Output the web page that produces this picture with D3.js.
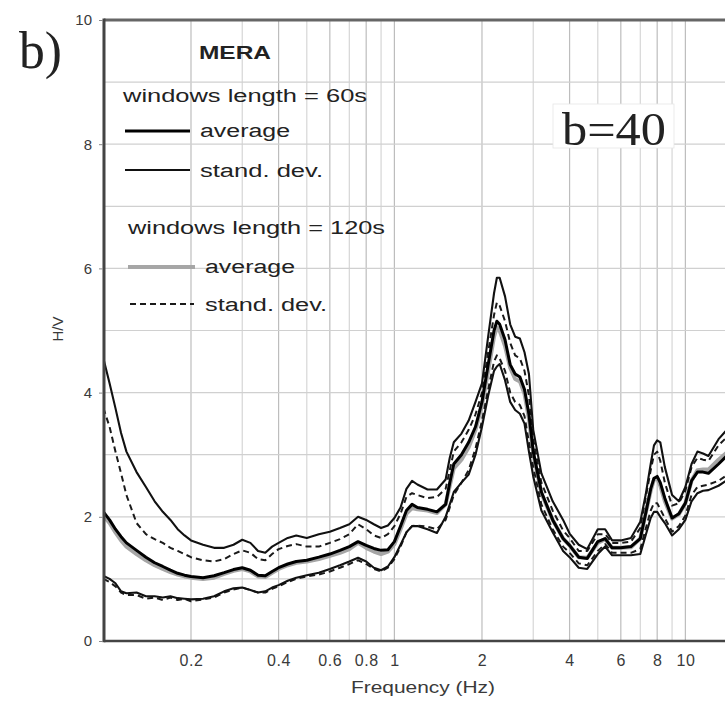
<!DOCTYPE html>
<html>
<head>
<meta charset="utf-8">
<script src="https://cdn.jsdelivr.net/npm/d3@7"></script>
<style>
  html, body { margin: 0; padding: 0; background: #fff; }
  svg { display: block; }
</style>
</head>
<body>
<svg id="chart" width="725" height="704"></svg>
<script>
// H/V spectral ratio, station MERA — frequency in Hz
const freq = [
  0.100,0.105,0.110,0.115,0.120,0.130,0.140,0.150,0.160,0.170,
  0.180,0.190,0.200,0.220,0.240,0.260,0.280,0.300,0.320,0.340,
  0.360,0.380,0.400,0.430,0.460,0.500,0.550,0.600,0.650,0.700,
  0.750,0.800,0.850,0.900,0.950,1.00,1.05,1.10,1.15,1.20,
  1.30,1.40,1.50,1.55,1.60,1.70,1.80,1.90,2.00,2.10,
  2.20,2.25,2.30,2.40,2.50,2.60,2.70,2.80,2.90,3.00,
  3.20,3.50,3.80,4.00,4.30,4.60,5.00,5.30,5.60,6.00,
  6.50,7.00,7.30,7.60,7.80,8.00,8.20,8.50,9.00,9.50,
  10.0,10.5,11.0,11.5,12.0,13.0,14.0
];

// windows length = 60 s
const avg60 = [
  2.08,1.95,1.80,1.68,1.58,1.46,1.35,1.26,1.20,1.14,
  1.09,1.06,1.04,1.02,1.05,1.10,1.15,1.18,1.14,1.06,
  1.05,1.12,1.18,1.24,1.28,1.30,1.35,1.40,1.46,1.52,
  1.60,1.54,1.49,1.46,1.47,1.60,1.85,2.10,2.20,2.15,
  2.12,2.08,2.20,2.55,2.85,3.00,3.20,3.45,3.85,4.45,
  5.00,5.15,5.10,4.85,4.45,4.30,4.25,4.05,3.65,3.05,
  2.40,1.95,1.65,1.54,1.35,1.33,1.60,1.65,1.50,1.50,
  1.52,1.65,2.05,2.45,2.62,2.65,2.55,2.30,1.98,2.05,
  2.22,2.58,2.72,2.72,2.70,2.85,3.00
];
const sdHi60 = [
  4.55,4.15,3.75,3.35,3.05,2.72,2.48,2.25,2.08,1.95,
  1.80,1.70,1.62,1.55,1.50,1.50,1.55,1.63,1.58,1.45,
  1.42,1.52,1.58,1.66,1.70,1.66,1.72,1.76,1.82,1.88,
  2.00,1.95,1.88,1.82,1.86,1.98,2.15,2.45,2.58,2.52,
  2.44,2.44,2.60,2.95,3.20,3.34,3.55,3.85,4.15,4.90,
  5.60,5.85,5.85,5.55,5.10,4.90,4.87,4.65,4.30,3.40,
  2.70,2.25,1.95,1.73,1.55,1.48,1.80,1.80,1.62,1.62,
  1.66,1.92,2.35,2.85,3.15,3.23,3.20,2.80,2.35,2.25,
  2.48,2.85,3.05,3.02,2.98,3.25,3.42
];
const sdLo60 = [
  1.05,1.00,0.93,0.80,0.77,0.78,0.72,0.72,0.70,0.72,
  0.69,0.68,0.67,0.68,0.72,0.80,0.85,0.86,0.82,0.78,
  0.80,0.86,0.90,0.97,1.02,1.06,1.10,1.16,1.22,1.28,
  1.34,1.28,1.18,1.14,1.20,1.35,1.55,1.75,1.85,1.85,
  1.80,1.74,2.00,2.20,2.40,2.55,2.68,3.00,3.45,3.95,
  4.35,4.42,4.46,4.20,3.85,3.72,3.66,3.50,3.05,2.65,
  2.10,1.75,1.45,1.35,1.18,1.16,1.40,1.52,1.38,1.38,
  1.38,1.40,1.70,1.98,2.08,2.08,2.00,1.90,1.70,1.80,
  1.95,2.25,2.38,2.42,2.43,2.50,2.60
];

// windows length = 120 s
const avg120 = [
  2.02,1.90,1.75,1.62,1.52,1.40,1.30,1.22,1.16,1.11,
  1.07,1.04,1.02,1.00,1.02,1.08,1.13,1.16,1.12,1.04,
  1.03,1.10,1.16,1.22,1.26,1.28,1.32,1.37,1.42,1.48,
  1.58,1.50,1.44,1.40,1.44,1.56,1.80,2.05,2.14,2.12,
  2.10,2.06,2.20,2.50,2.78,2.92,3.12,3.40,3.80,4.35,
  4.90,5.05,5.00,4.75,4.40,4.22,4.18,3.98,3.58,3.02,
  2.38,1.95,1.65,1.54,1.35,1.34,1.58,1.64,1.50,1.50,
  1.51,1.65,2.05,2.42,2.60,2.62,2.50,2.25,1.97,2.04,
  2.22,2.58,2.75,2.76,2.76,2.92,3.05
];
const sdHi120 = [
  3.75,3.45,3.05,2.70,2.35,1.90,1.72,1.64,1.58,1.50,
  1.45,1.40,1.35,1.30,1.28,1.32,1.40,1.46,1.42,1.32,
  1.30,1.40,1.48,1.53,1.56,1.52,1.52,1.58,1.64,1.72,
  1.88,1.80,1.70,1.66,1.72,1.85,2.05,2.32,2.38,2.35,
  2.30,2.32,2.45,2.75,3.05,3.20,3.40,3.65,4.00,4.65,
  5.25,5.45,5.40,5.15,4.80,4.60,4.55,4.35,3.95,3.25,
  2.55,2.10,1.78,1.66,1.45,1.45,1.72,1.72,1.58,1.58,
  1.60,1.82,2.30,2.75,3.00,3.05,2.90,2.55,2.18,2.22,
  2.42,2.80,2.95,2.92,2.90,3.15,3.30
];
const sdLo120 = [
  1.00,0.95,0.88,0.78,0.74,0.74,0.68,0.70,0.66,0.70,
  0.66,0.68,0.64,0.67,0.70,0.78,0.83,0.86,0.82,0.78,
  0.78,0.84,0.88,0.95,1.00,1.04,1.07,1.12,1.18,1.24,
  1.30,1.24,1.16,1.12,1.18,1.32,1.52,1.75,1.85,1.86,
  1.84,1.80,1.95,2.15,2.35,2.55,2.75,3.10,3.55,4.05,
  4.50,4.60,4.55,4.35,4.00,3.85,3.80,3.62,3.20,2.80,
  2.20,1.80,1.52,1.42,1.25,1.22,1.45,1.56,1.42,1.42,
  1.42,1.48,1.80,2.10,2.22,2.22,2.12,1.98,1.76,1.85,
  2.02,2.35,2.48,2.50,2.52,2.58,2.68
];

const xTickValues = [0.2, 0.4, 0.6, 0.8, 1, 2, 4, 6, 8, 10];
const xTickLabels = ["0.2", "0.4", "0.6", "0.8", "1", "2", "4", "6", "8", "10"];
const yTickValues = [0, 2, 4, 6, 8, 10];
const yGridValues = [1, 2, 3, 4, 5, 6, 7, 8, 9];

// ---- layout ----
const svg = d3.select("#chart");
const plot = { left: 104, top: 20, right: 728, bottom: 641 };
const sans = "'Liberation Sans', Arial, Helvetica, sans-serif";
const serif = "'Liberation Serif', 'Times New Roman', serif";

const x = d3.scaleLog().domain([0.1, 14]).range([103.4, 727.9]);
const y = d3.scaleLinear().domain([0, 10]).range([plot.bottom, plot.top]);

svg.append("rect").attr("width", 725).attr("height", 704).attr("fill", "#fff");

svg.append("defs").append("clipPath").attr("id", "plotClip")
  .append("rect")
  .attr("x", plot.left).attr("y", plot.top)
  .attr("width", plot.right - plot.left).attr("height", plot.bottom - plot.top);

// grid
const grid = svg.append("g");
grid.selectAll("line.v").data(x.ticks()).join("line")
  .attr("class", "v")
  .attr("x1", d => x(d)).attr("x2", d => x(d))
  .attr("y1", plot.top).attr("y2", plot.bottom)
  .attr("stroke", d => xTickValues.some(t => Math.abs(t - d) < 1e-9) ? "#bdbdbd" : "#d6d6d6")
  .attr("stroke-width", 1.2);
grid.selectAll("line.h").data(yGridValues).join("line")
  .attr("class", "h")
  .attr("x1", plot.left).attr("x2", plot.right)
  .attr("y1", d => y(d)).attr("y2", d => y(d))
  .attr("stroke", "#d0d0d0")
  .attr("stroke-width", 1.2);

// series
const line = d3.line()
  .x(d => x(d.f))
  .y(d => y(d.v));
const toPoints = vals => freq.map((f, i) => ({ f, v: vals[i] }));

const seriesStyles = [
  { values: avg120,  stroke: "#a6a6a6", width: 4.0, dash: null },
  { values: sdHi120, stroke: "#1a1a1a", width: 2.0, dash: "6,4" },
  { values: sdLo120, stroke: "#1a1a1a", width: 2.0, dash: "6,4" },
  { values: sdHi60,  stroke: "#111",    width: 2.1, dash: null },
  { values: sdLo60,  stroke: "#111",    width: 2.1, dash: null },
  { values: avg60,   stroke: "#000",    width: 3.0, dash: null }
];

const curves = svg.append("g").attr("clip-path", "url(#plotClip)");
curves.selectAll("path").data(seriesStyles).join("path")
  .attr("d", s => line(toPoints(s.values)))
  .attr("fill", "none")
  .attr("stroke", s => s.stroke)
  .attr("stroke-width", s => s.width)
  .attr("stroke-dasharray", s => s.dash)
  .attr("stroke-linejoin", "round");

// frame
svg.append("line")
  .attr("x1", plot.left).attr("x2", plot.right + 5)
  .attr("y1", plot.top).attr("y2", plot.top)
  .attr("stroke", "#666").attr("stroke-width", 3);
svg.append("line")
  .attr("x1", plot.left).attr("x2", plot.right + 5)
  .attr("y1", plot.bottom).attr("y2", plot.bottom)
  .attr("stroke", "#444").attr("stroke-width", 2.5);
svg.append("line")
  .attr("x1", plot.left).attr("x2", plot.left)
  .attr("y1", plot.top - 1.5).attr("y2", plot.bottom + 1.2)
  .attr("stroke", "#444").attr("stroke-width", 3);

// axes
const yAxis = svg.append("g")
  .attr("transform", `translate(${plot.left - 1},0)`)
  .call(d3.axisLeft(y).tickValues(yTickValues).tickSize(4).tickPadding(7));
yAxis.select(".domain").remove();
yAxis.selectAll("line").attr("stroke", "#888");
yAxis.selectAll("text")
  .attr("font-family", sans).attr("font-size", 15).attr("fill", "#3a3a3a");

const xAxis = svg.append("g")
  .attr("transform", `translate(0,${plot.bottom})`)
  .call(d3.axisBottom(x).tickValues(xTickValues).tickSize(0).tickPadding(14)
    .tickFormat((d, i) => xTickLabels[i]));
xAxis.select(".domain").remove();
xAxis.selectAll("text")
  .attr("font-family", sans).attr("font-size", 16).attr("fill", "#3a3a3a")
  .attr("letter-spacing", 0.6);

// axis titles
svg.append("text")
  .attr("x", 423).attr("y", 693)
  .attr("text-anchor", "middle")
  .attr("font-family", sans).attr("font-size", 17).attr("fill", "#3a3a3a")
  .attr("textLength", 144).attr("lengthAdjust", "spacingAndGlyphs")
  .text("Frequency (Hz)");
svg.append("text")
  .attr("transform", "translate(63,329) rotate(-90)")
  .attr("text-anchor", "middle")
  .attr("font-family", sans).attr("font-size", 15).attr("fill", "#3a3a3a")
  .text("H/V");

// panel letter
svg.append("text")
  .attr("x", 19).attr("y", 68)
  .attr("font-family", serif).attr("font-size", 52).attr("fill", "#222")
  .attr("textLength", 43).attr("lengthAdjust", "spacingAndGlyphs")
  .text("b)");

// annotation
svg.append("rect")
  .attr("x", 553).attr("y", 104).attr("width", 121).attr("height", 44)
  .attr("fill", "#fff").attr("stroke", "#e6e6e6").attr("stroke-width", 0.8);
svg.append("text")
  .attr("x", 562).attr("y", 145)
  .attr("font-family", serif).attr("font-size", 47).attr("fill", "#222")
  .attr("textLength", 104).attr("lengthAdjust", "spacingAndGlyphs")
  .text("b=40");

// legend
const legend = svg.append("g");
function legendText(tx, ty, str, len, weight) {
  legend.append("text")
    .attr("x", tx).attr("y", ty)
    .attr("font-family", sans).attr("font-size", 18)
    .attr("font-weight", weight || "normal").attr("fill", "#222")
    .attr("textLength", len).attr("lengthAdjust", "spacingAndGlyphs")
    .text(str);
}
function legendLine(x1, x2, ly, style) {
  legend.append("line")
    .attr("x1", x1).attr("x2", x2).attr("y1", ly).attr("y2", ly)
    .attr("stroke", style.stroke).attr("stroke-width", style.width)
    .attr("stroke-dasharray", style.dash);
}
legendText(199, 59, "MERA", 72, "bold");
legendText(123, 102, "windows length = 60s", 244);
legendLine(125, 190, 131, seriesStyles[5]);
legendText(200, 137, "average", 90);
legendLine(125, 190, 170, seriesStyles[3]);
legendText(200, 177, "stand. dev.", 123);
legendText(128, 234, "windows length = 120s", 257);
legendLine(128, 195, 267, seriesStyles[0]);
legendText(205, 273, "average", 90);
legendLine(130, 194, 304, seriesStyles[1]);
legendText(205, 311, "stand. dev.", 122);
</script>
</body>
</html>
